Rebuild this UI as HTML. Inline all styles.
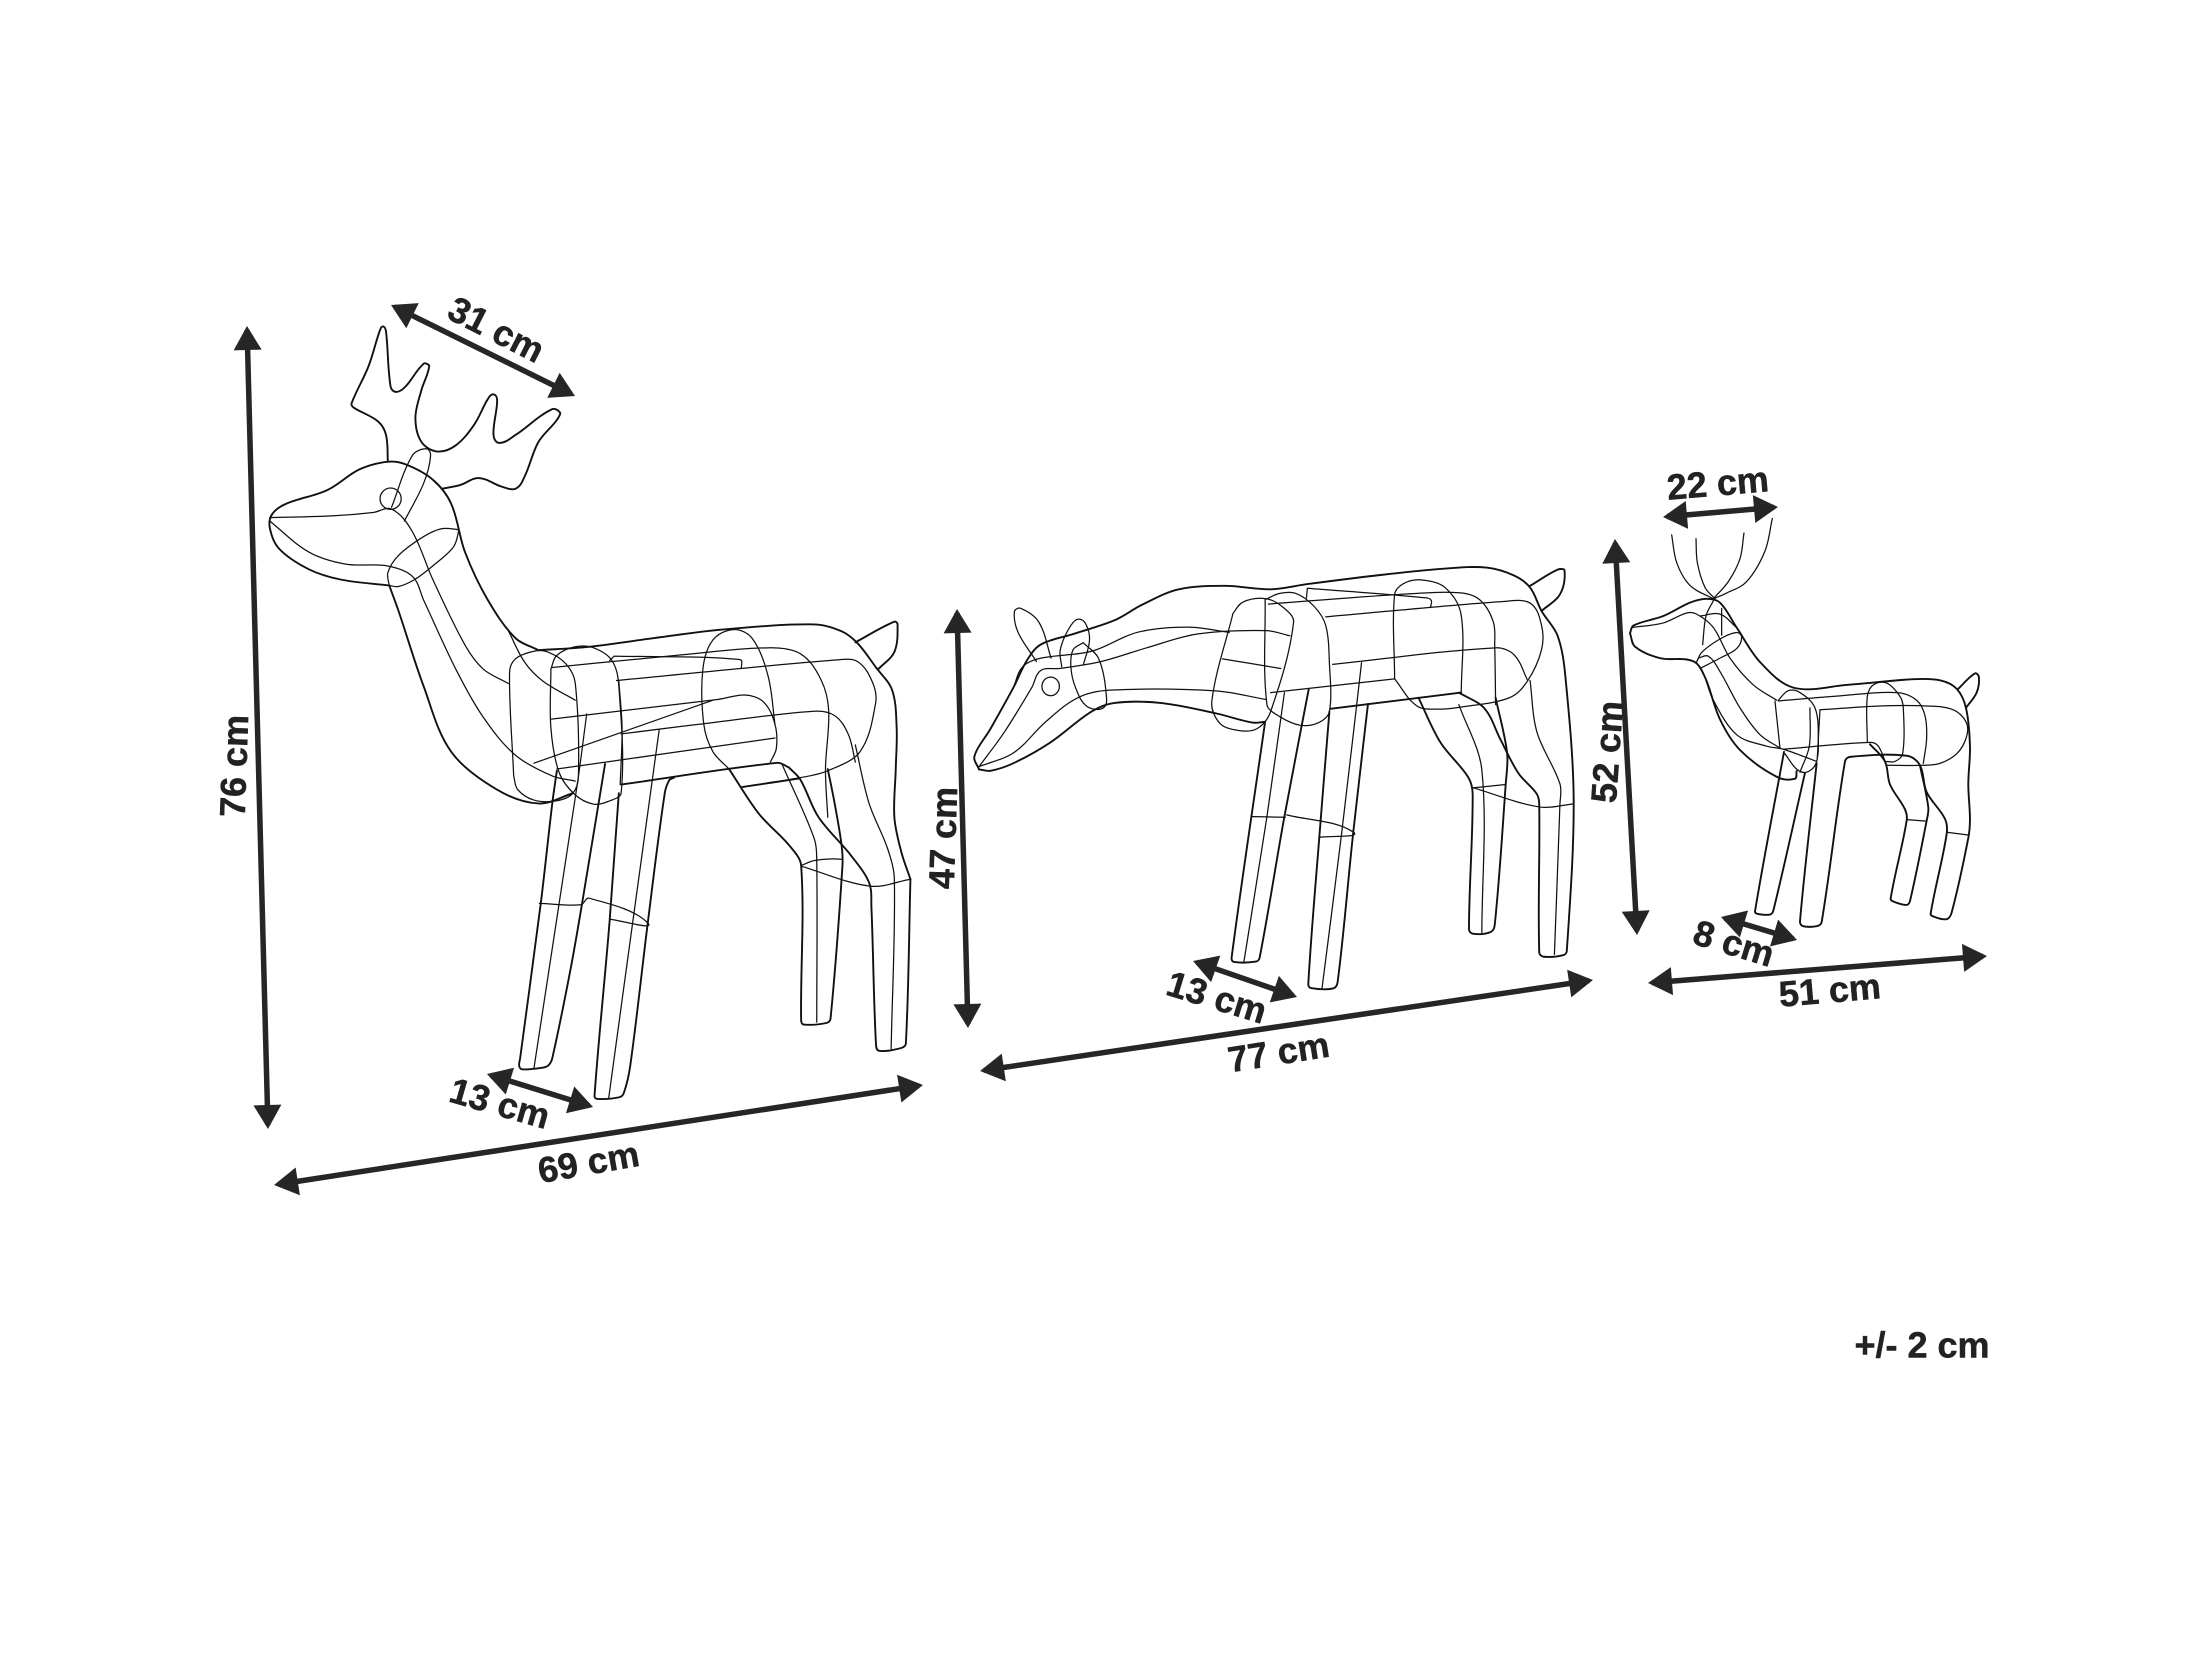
<!DOCTYPE html>
<html><head><meta charset="utf-8"><style>
html,body{margin:0;padding:0;background:#fff;width:2211px;height:1658px;overflow:hidden}
svg{display:block}
.c,.t{fill:none;stroke:#111;stroke-linejoin:round;stroke-linecap:round;vector-effect:non-scaling-stroke}
.c{stroke-width:1.9}
.t{stroke-width:1.25}
.a{stroke:#262626;stroke-width:5.5;fill:none}
text{font-family:"Liberation Sans",sans-serif;font-weight:bold;font-size:36px;fill:#222;stroke:#222;stroke-width:.5;text-anchor:middle;dominant-baseline:middle}
</style></head><body>
<svg width="2211" height="1658" viewBox="0 0 2211 1658" xmlns="http://www.w3.org/2000/svg">
<defs><marker id="h" viewBox="-1 -15 27 30" refX="20" refY="0" markerWidth="27" markerHeight="30" markerUnits="userSpaceOnUse" orient="auto-start-reverse"><path d="M0,-14 L24,0 L0,14 Z" fill="#262626"/></marker></defs>

<!-- Deer 1 -->
<g transform="matrix(.4592 0 0 .3444 240 280)">
<path class="c" d="M322,528 318,450 300,410 247,370 243,358 280,250 305,145 312,135 318,150 328,310 340,325 360,310 400,243 412,250 395,320 382,400 395,470 430,498 470,480 510,420 540,345 552,332 560,350 552,450 565,473 600,450 680,375 697,390 650,470 620,570 600,606 570,600 520,575 480,595 440,606"/>
<path class="c" d="M650,1075 600,1040 540,930 490,790 460,650 420,580 360,535 320,528 260,550 190,610 100,650 70,680 65,720 85,780 150,840 220,870 325,887 M325,887 345,960 400,1180 460,1370 560,1480 650,1520 725,1490"/>
<path class="t" d="M65,690 200,685 290,675 330,665 375,730 420,870 490,1060 530,1130 585,1172"/>
<path class="t" d="M65,700 150,790 230,825 320,830 375,860 400,930 470,1130 530,1270 600,1380 680,1440 730,1455"/>
<ellipse class="t" cx="328" cy="635" rx="23" ry="31"/>
<path class="t" d="M330,660 375,510 405,490 415,510 400,590 358,700"/>
<path class="t" d="M325,887 322,850 345,800 400,745 440,722 477,725 M477,725 465,775 420,830 380,870 345,890 325,887"/>
<path class="t" d="M730,1220 660,1165 620,1110 585,1020"/>
<path class="t" d="M596,1440 587,1140 600,1100 640,1078 670,1080 710,1115 730,1170 737,1440 725,1490 690,1512 640,1510 605,1480 596,1440"/>
<path class="t" d="M677,1130 690,1090 730,1065 770,1068 810,1105 825,1180 830,1490 800,1515 770,1522 730,1495 695,1430 677,1300 677,1130"/>
<path class="c" d="M650,1075 760,1065 900,1040 1050,1015 1250,1000 1310,1020 1345,1055 1385,1125 1420,1190 1430,1300 1428,1420 1425,1560 1440,1660 1460,1740"/>
<path class="t" d="M680,1125 950,1090 1150,1068 1220,1085 1265,1160 1282,1250 1275,1420 1280,1560"/>
<path class="t" d="M820,1163 1300,1103 1345,1108 1378,1170 1384,1230 1350,1370 1280,1425 1220,1445 1090,1472"/>
<path class="t" d="M805,1105 815,1092 M815,1092 1088,1102 1092,1128"/>
<path class="t" d="M678,1275 1040,1218 1100,1205 1140,1225 1165,1290 1168,1360 1155,1400"/>
<path class="t" d="M640,1403 1030,1220"/>
<path class="t" d="M830,1318 1000,1290 1250,1252 1295,1265 1325,1320 1340,1400"/>
<path class="t" d="M690,1420 1165,1330"/>
<path class="t" d="M1065,1420 1030,1370 1010,1290 1008,1130 1030,1045 1075,1015 1115,1040 1150,1150 1165,1290"/>
<path class="c" d="M830,1465 1170,1402 1195,1415"/>
<path class="c" d="M1340,1052 1425,992 1432,1000 1425,1080 1390,1130"/>
<path class="t" d="M825,1165 832,1300 828,1465"/>
<g transform="translate(0,1220)">
<path class="c" d="M690,205 680,300 655,590 610,1040 608,1062 615,1072 660,1067 672,1060 680,1040 720,780 745,590 795,185"/>
<path class="t" d="M755,40 735,240 695,590 640,1070"/>
<path class="t" d="M652,590 742,594 760,575 888,647 805,636"/>
<path class="c" d="M825,270 805,640 772,1150 778,1158 826,1153 836,1140 850,1060 888,647 925,270 935,232 945,225"/>
<path class="t" d="M913,85 855,647 803,1155"/>
<path class="c" d="M1065,200 1130,330 1195,420 1222,480 1222,930 1228,942 1278,937 1286,925 1312,480 1310,420 1295,300 1280,200"/>
<path class="t" d="M1180,185 1250,400 1256,470 1256,935"/>
<path class="t" d="M1222,480 1250,466 1290,461 1312,462"/>
<path class="t" d="M1222,482 1372,540 1460,520"/>
<path class="c" d="M1195,195 1220,230 1260,340 1330,450 1370,530 1375,600 1385,1000 1392,1018 1440,1010 1450,998 1460,520"/>
<path class="t" d="M1340,130 1370,300 1410,430 1425,520 1418,1012"/>
<path class="t" d="M1095,253 1220,228"/>
</g>
</g>

<!-- Deer 2 -->
<g transform="matrix(.4592 0 0 .3444 940 560)">
<path class="c" d="M85,608 75,570 110,490 160,370 190,290 220,245 290,215 380,175 440,130 520,85 620,75 720,85 800,70 950,45 1100,25 1190,22 1250,45 1285,80 1310,148 1345,220 1362,340 1380,700 1365,1135 1358,1147 1315,1152 1305,1140 1305,720 1300,680 1260,620 1220,520 1185,430 1130,385"/>
<path class="c" d="M85,608 110,612 160,590 240,530 330,440 380,415 480,415 600,445 680,472 708,470"/>
<path class="t" d="M85,600 140,500 200,370 220,320 260,315 350,295 450,255 560,215 710,205 762,220"/>
<path class="t" d="M85,600 160,560 230,470 300,400 370,378 600,380 710,405"/>
<path class="t" d="M160,370 180,310 220,285 330,265 430,210 540,195 630,210"/>
<path class="t" d="M210,295 170,210 162,150 175,140 215,180 242,285"/>
<path class="t" d="M265,310 262,260 285,190 305,172 322,200 325,240 312,305"/>
<path class="t" d="M312,240 290,260 285,310 295,370 320,425 355,430 362,390 345,285 312,240"/>
<ellipse class="t" cx="241" cy="367" rx="19" ry="27"/>
<path class="t" d="M638,155 660,122 708,112 745,135 770,180 720,440 690,490 650,495 610,475 592,410 638,155"/>
<path class="t" d="M615,287 742,315"/>
<path class="t" d="M708,115 740,97 775,97 815,135 840,190 848,300 848,440 825,472 785,480 740,455 712,420 708,115"/>
<path class="t" d="M798,110 800,82 M800,82 1060,110 1070,118 1068,138"/>
<path class="t" d="M715,128 1000,100 1130,95 1175,115 1205,180 1208,250 1210,420"/>
<path class="t" d="M840,165 1230,120 1285,125 1310,190 1310,260 1280,350 1240,400 1130,428 1090,433 1040,425 990,345 M990,345 990,100 1010,68 1050,58 1100,80 1135,160 1135,390"/>
<path class="t" d="M855,303 1210,255 1250,275 1280,350"/>
<path class="t" d="M720,385 990,345"/>
<path class="c" d="M850,432 1135,385"/>
<path class="c" d="M708,470 635,1155 640,1167 688,1166 696,1155 750,745 803,375"/>
<path class="t" d="M750,385 712,745 662,1165"/>
<path class="t" d="M680,745 752,747"/>
<path class="t" d="M755,740 900,790 826,805"/>
<path class="c" d="M848,440 826,805 802,1232 808,1243 856,1244 866,1225 900,790 932,418"/>
<path class="t" d="M918,298 875,790 832,1243"/>
<path class="c" d="M1042,400 1090,530 1150,630 1160,680 1152,1072 1160,1085 1198,1081 1208,1060 1232,650 1235,560 1210,400"/>
<path class="t" d="M1130,420 1180,610 1180,1082"/>
<path class="t" d="M1158,660 1305,717 1380,708"/>
<path class="t" d="M1158,662 1232,652"/>
<path class="t" d="M1285,350 1300,500 1350,650 1350,710 1338,1145"/>
<path class="c" d="M1285,75 1345,28 1360,30 1350,100 1310,148"/>
</g>

<!-- Deer 3 -->
<g transform="matrix(.3333 0 0 .3827 1580 440)">
<path class="t" d="M275,248 290,320 330,380 400,415"/>
<path class="t" d="M348,258 352,320 375,385 405,415"/>
<path class="t" d="M492,243 480,310 445,370 400,415"/>
<path class="t" d="M577,205 555,290 500,370 440,400 400,415"/>
<path class="c" d="M150,505 160,485 250,460 330,425 380,415 420,425 470,490 540,580 640,647 800,640 1000,625 1080,628 1130,650 1158,700 1170,800 1165,900 1170,990 1165,1040 1115,1235 1100,1252 1060,1245 1052,1238 1100,1030 1095,990 1040,920 1020,850 980,825 810,828 795,840 725,1260 712,1270 668,1270 660,1258 710,845"/>
<path class="c" d="M150,505 165,540 240,570 340,578 375,620 420,730 480,810 590,880 645,885 650,865"/>
<path class="t" d="M155,490 250,478 320,452 350,455 400,490 450,570 520,640 590,680"/>
<path class="t" d="M368,535 378,460 400,420"/>
<path class="t" d="M425,510 425,440"/>
<path class="t" d="M360,460 420,455 470,490"/>
<path class="t" d="M350,580 365,555 420,520 470,503 485,515 470,545 420,570 360,597"/>
<path class="t" d="M355,570 385,565 420,605 480,700 540,770 600,805"/>
<path class="t" d="M375,620 400,680 470,770 560,800 610,808 680,830 710,840"/>
<path class="t" d="M595,680 625,655 660,660 705,700 715,780 708,845 680,868 650,860 615,820"/>
<path class="t" d="M585,682 600,805"/>
<path class="t" d="M690,700 688,800 660,868"/>
<path class="t" d="M595,682 760,670 950,660 1010,680 1035,720 1040,780 1030,845"/>
<path class="t" d="M720,705 900,695 1040,695 1120,705 1160,740 1158,780 1130,820 1080,845 1030,850 920,850"/>
<path class="t" d="M720,705 712,830"/>
<path class="t" d="M610,808 870,790 895,800 920,850"/>
<path class="t" d="M862,790 862,670 880,640 920,635 960,670 970,700 968,820 945,840 920,840"/>
<path class="c" d="M870,795 915,840 930,900 975,965 980,995 932,1198 940,1206 980,1215 990,1205 1040,995 1045,960 1020,850"/>
<path class="t" d="M980,992 1040,996"/>
<path class="t" d="M1100,1025 1165,1032"/>
<path class="c" d="M612,815 525,1232 532,1238 570,1240 580,1230 675,870"/>
<path class="c" d="M1135,650 1185,610 1197,620 1190,660 1158,700"/>
</g>

<!-- Dimension arrows -->
<g class="arrows">
<line class="a" x1="394.6" y1="306.8" x2="571.4" y2="394.2" marker-start="url(#h)" marker-end="url(#h)"/>
<line class="a" x1="247.1" y1="330" x2="267.9" y2="1125" marker-start="url(#h)" marker-end="url(#h)"/>
<line class="a" x1="490.8" y1="1075.2" x2="589.2" y2="1105.8" marker-start="url(#h)" marker-end="url(#h)"/>
<line class="a" x1="278" y1="1184.4" x2="919" y2="1085.6" marker-start="url(#h)" marker-end="url(#h)"/>
<line class="a" x1="957.1" y1="613" x2="967.9" y2="1024" marker-start="url(#h)" marker-end="url(#h)"/>
<line class="a" x1="1196.8" y1="962.3" x2="1293.2" y2="995.7" marker-start="url(#h)" marker-end="url(#h)"/>
<line class="a" x1="984" y1="1070.4" x2="1589" y2="980.6" marker-start="url(#h)" marker-end="url(#h)"/>
<line class="a" x1="1615.2" y1="543" x2="1636.8" y2="931" marker-start="url(#h)" marker-end="url(#h)"/>
<line class="a" x1="1667" y1="516.65" x2="1774" y2="507.35" marker-start="url(#h)" marker-end="url(#h)"/>
<line class="a" x1="1724.8" y1="918.2" x2="1793.2" y2="938.8" marker-start="url(#h)" marker-end="url(#h)"/>
<line class="a" x1="1652" y1="982.7" x2="1983" y2="956.3" marker-start="url(#h)" marker-end="url(#h)"/>
</g>

<!-- Labels -->
<text transform="translate(495,332) rotate(27)">31 cm</text>
<text transform="translate(237,766) rotate(-88)">76 cm</text>
<text transform="translate(499,1106) rotate(16)">13 cm</text>
<text transform="translate(589,1165) rotate(-10)">69 cm</text>
<text transform="translate(1279,1055) rotate(-9)">77 cm</text>
<text transform="translate(1216,1000) rotate(17)">13 cm</text>
<text transform="translate(946,838) rotate(-88)">47 cm</text>
<text transform="translate(1610,752) rotate(-86)">52 cm</text>
<text transform="translate(1718,486) rotate(-5)">22 cm</text>
<text transform="translate(1733,946) rotate(17)">8 cm</text>
<text transform="translate(1830,993) rotate(-5)">51 cm</text>
<text x="1922" y="1348">+/- 2 cm</text>
</svg>
<script>
document.querySelectorAll('path.c,path.t').forEach(function(e){
  var subs=e.getAttribute('d').split('M').filter(function(s){return s.trim()}),out='';
  function h(x,y){return Math.sqrt(x*x+y*y)||1}
  subs.forEach(function(s){
    var n=s.trim().split(/[\s,]+/).map(Number),p=[];
    for(var i=0;i+1<n.length;i+=2)p.push([n[i],n[i+1]]);
    out+='M'+p[0][0]+' '+p[0][1];
    for(var i=0;i<p.length-1;i++){
      var a=p[i-1]||p[i],b=p[i],c=p[i+1],d=p[i+2]||c;
      var L=h(c[0]-b[0],c[1]-b[1])/3,m1=h(c[0]-a[0],c[1]-a[1]),m2=h(d[0]-b[0],d[1]-b[1]);
      out+='C'+(b[0]+(c[0]-a[0])/m1*L).toFixed(1)+' '+(b[1]+(c[1]-a[1])/m1*L).toFixed(1)+' '+(c[0]-(d[0]-b[0])/m2*L).toFixed(1)+' '+(c[1]-(d[1]-b[1])/m2*L).toFixed(1)+' '+c[0]+' '+c[1];
    }
  });
  e.setAttribute('d',out);
});
</script>
</body></html>
